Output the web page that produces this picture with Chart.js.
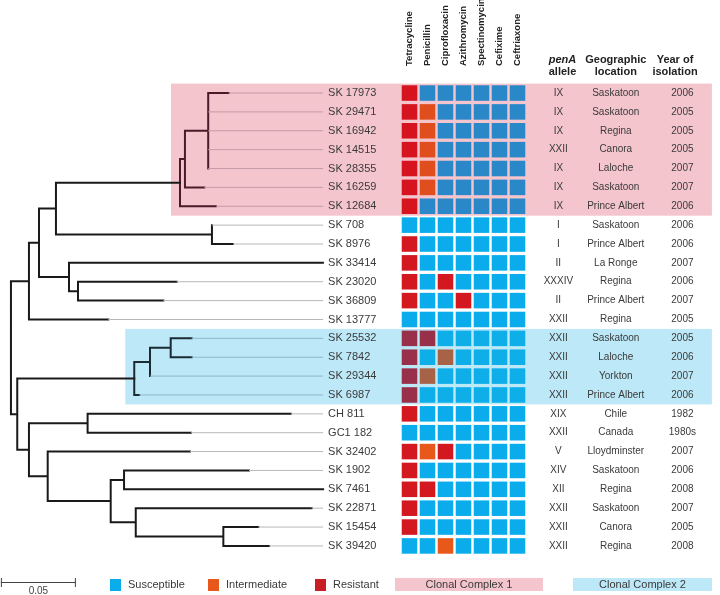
<!DOCTYPE html>
<html>
<head>
<meta charset="utf-8">
<script src="https://cdn.jsdelivr.net/npm/chart.js@4.4.1/dist/chart.umd.min.js"></script>
<style>
  html, body { margin: 0; padding: 0; background: #fff; }
</style>
</head>
<body>
<canvas id="tree" width="720" height="595"></canvas>
<script>
// Isolates, top to bottom
const isolates = ['SK 17973', 'SK 29471', 'SK 16942', 'SK 14515', 'SK 28355', 'SK 16259', 'SK 12684',
  'SK 708', 'SK 8976', 'SK 33414', 'SK 23020', 'SK 36809', 'SK 13777',
  'SK 25532', 'SK 7842', 'SK 29344', 'SK 6987',
  'CH 811', 'GC1 182', 'SK 32402', 'SK 1902', 'SK 7461', 'SK 22871', 'SK 15454', 'SK 39420'];

const drugs = ['Tetracycline', 'Penicillin', 'Ciprofloxacin', 'Azithromycin', 'Spectinomycin', 'Cefixime', 'Ceftriaxone'];

// S = susceptible, I = intermediate, R = resistant (one letter per drug)
const profiles = ['RSSSSSS', 'RISSSSS', 'RISSSSS', 'RISSSSS', 'RISSSSS', 'RISSSSS', 'RSSSSSS',
  'SSSSSSS', 'RSSSSSS', 'RSSSSSS', 'RSRSSSS', 'RSSRSSS', 'SSSSSSS',
  'RRSSSSS', 'RSISSSS', 'RISSSSS', 'RSSSSSS',
  'RSSSSSS', 'SSSSSSS', 'RIRSSSS', 'RSSSSSS', 'RRSSSSS', 'RSSSSSS', 'RSSSSSS', 'SSISSSS'];

const penA = ['IX', 'IX', 'IX', 'XXII', 'IX', 'IX', 'IX', 'I', 'I', 'II', 'XXXIV', 'II', 'XXII',
  'XXII', 'XXII', 'XXII', 'XXII', 'XIX', 'XXII', 'V', 'XIV', 'XII', 'XXII', 'XXII', 'XXII'];

const locations = ['Saskatoon', 'Saskatoon', 'Regina', 'Canora', 'Laloche', 'Saskatoon', 'Prince Albert',
  'Saskatoon', 'Prince Albert', 'La Ronge', 'Regina', 'Prince Albert', 'Regina',
  'Saskatoon', 'Laloche', 'Yorkton', 'Prince Albert', 'Chile', 'Canada', 'Lloydminster',
  'Saskatoon', 'Regina', 'Saskatoon', 'Canora', 'Regina'];

const years = ['2006', '2005', '2005', '2005', '2007', '2007', '2006', '2006', '2006', '2007', '2006', '2007', '2005',
  '2005', '2006', '2007', '2006', '1982', '1980s', '2007', '2006', '2008', '2007', '2005', '2008'];

// 0 = none, 1 = Clonal Complex 1, 2 = Clonal Complex 2
const clonalComplex = [1, 1, 1, 1, 1, 1, 1, 0, 0, 0, 0, 0, 0, 2, 2, 2, 2, 0, 0, 0, 0, 0, 0, 0, 0];

// tree: n(branch length, ...children), t(isolate, branch length)
const n = (len, ...kids) => ({ len, kids });
const t = (name, len) => ({ len, name });

const tree = n(0,
  n(0.0120,
    n(0.0067,
      n(0.0113,
        n(0.0827,
          n(0.0033,
            n(0.0155, t('SK 17973', 0.0136), t('SK 29471', 0), t('SK 16942', 0), t('SK 14515', 0), t('SK 28355', 0)),
            t('SK 16259', 0.0129)),
          t('SK 12684', 0.0240)),
        n(0.1040, t('SK 708', 0), t('SK 8976', 0.0140))),
      n(0.0200, t('SK 33414', 0.1693),
        n(0.0060, t('SK 23020', 0.0658), t('SK 36809', 0.0569)))),
    t('SK 13777', 0.0529)),
  n(0.0042,
    n(0.0780,
      n(0.0105, n(0.0138, t('SK 25532', 0.0140), t('SK 7842', 0.0140)), t('SK 29344', 0)),
      t('SK 6987', 0.0033)),
    n(0.0078,
      n(0.0391, t('CH 811', 0.1355), t('GC1 182', 0.0689)),
      n(0.0125, t('SK 32402', 0.0949),
        n(0.0420,
          n(0.0089, t('SK 1902', 0.0833), t('SK 7461', 0.1327)),
          n(0.0167, t('SK 22871', 0.1173),
            n(0.0584, t('SK 15454', 0.0233), t('SK 39420', 0.0305))))))));

const scaleBarLength = 0.05;

// styles
const FONT = '"Liberation Sans", Arial, sans-serif';
const cellColors = [
  { S: '#0aacec', I: '#e8581a', R: '#d3181f' },
  { S: '#2a88c9', I: '#e04e1e', R: '#d5141f' },
  { S: '#0eaee9', I: '#a86347', R: '#98304a' }
];
const boxColors = ['', '#f4c5cd', '#bde8f7'];
const branchColors = ['#1a1a1a', '#4a1a28', '#1c2a35'];
const guideColors = ['#b8b8b8', '#c49ba5', '#8fb6c6'];

// layout of the tree
let maxDepth = 0;
const cladeDepth = [0, 0, 0];

const layout = (node, depth) => {
  node.depth = depth + node.len;
  if (node.name) {
    node.row = isolates.indexOf(node.name);
    node.y = node.row;
    node.cc = clonalComplex[node.row];
    maxDepth = Math.max(maxDepth, node.depth);
    return;
  }
  node.kids.forEach(kid => layout(kid, node.depth));
  node.y = (node.kids[0].y + node.kids[node.kids.length - 1].y) / 2;
  const cc = node.kids[0].cc;
  node.cc = node.kids.every(kid => kid.cc === cc) ? cc : 0;
  node.kids.forEach(kid => {
    if (kid.cc && kid.cc !== node.cc && !kid.name) cladeDepth[kid.cc] = kid.depth;
  });
}
layout(tree, 0);

const branches = [[], [], []];
const guides = [[], [], []];

const addSegment = (list, x1, y1, x2, y2) => {
  list.push({ x: x1, y: y1 }, { x: x2, y: y2 }, { x: x2, y: null });
}

const collect = (node) => {
  if (node.name) {
    guides[node.cc].push({ x: node.depth, y: node.y }, { x: maxDepth, y: node.y }, { x: maxDepth, y: null });
    return;
  }
  const first = node.kids[0];
  const last = node.kids[node.kids.length - 1];
  addSegment(branches[node.cc], node.depth, first.y, node.depth, last.y);
  node.kids.forEach(kid => {
    if (kid.depth > node.depth) addSegment(branches[node.cc], node.depth, kid.y, kid.depth, kid.y);
    collect(kid);
  });
}
collect(tree);

// heatmap cells
const cells = [];
const cellFill = [];
profiles.forEach((profile, row) => {
  profile.split('').forEach((state, col) => {
    cells.push({ x: col, y: row });
    cellFill.push(cellColors[clonalComplex[row]][state]);
  });
});

const datasets = [];
[0, 1, 2].forEach(g => {
  datasets.push({
    type: 'line', data: guides[g], xAxisID: 'x', yAxisID: 'y',
    borderColor: guideColors[g], borderWidth: 1, pointRadius: 0, spanGaps: false
  });
});
[0, 1, 2].forEach(g => {
  datasets.push({
    type: 'line', data: branches[g], xAxisID: 'x', yAxisID: 'y',
    borderColor: branchColors[g], borderWidth: 2, borderCapStyle: 'square',
    pointRadius: 0, spanGaps: false
  });
});
datasets.push({
  type: 'scatter', data: cells, xAxisID: 'xc', yAxisID: 'y',
  pointStyle: 'rect', pointRadius: 11, pointBorderWidth: 0,
  pointBackgroundColor: cellFill, pointHoverRadius: 11
});

// text columns, boxes, headers, legend
const textCols = [
  { values: penA, x: 8.27, title: ['penA', 'allele'], tx: 8.5 },
  { values: locations, x: 11.46, title: ['Geographic', 'location'], tx: 11.46 },
  { values: years, x: 15.16, title: ['Year of', 'isolation'], tx: 14.75 }
];

const decor = {
  id: 'decor',
  beforeDatasetsDraw(chart) {
    const { ctx, scales: { x, xc, y } } = chart;
    ctx.save();
    [1, 2].forEach(cc => {
      const rows = clonalComplex.map((c, i) => c === cc ? i : -1).filter(i => i >= 0);
      const left = x.getPixelForValue(cladeDepth[cc]) - 9;
      const right = xc.getPixelForValue(16.8);
      const top = y.getPixelForValue(rows[0] - 0.5);
      const bottom = y.getPixelForValue(rows[rows.length - 1] + 0.5);
      ctx.fillStyle = boxColors[cc];
      ctx.fillRect(left, top, right - left, bottom - top);
    });
    ctx.restore();
  },
  afterDatasetsDraw(chart) {
    const { ctx, scales: { x, xc, y } } = chart;
    ctx.save();
    ctx.textBaseline = 'middle';

    // isolate names
    ctx.font = '11px ' + FONT;
    ctx.fillStyle = '#3a3a3a';
    ctx.textAlign = 'left';
    const labelX = x.getPixelForValue(maxDepth) + 5;
    isolates.forEach((name, row) => ctx.fillText(name, labelX, y.getPixelForValue(row)));

    // right-hand columns
    ctx.font = '10px ' + FONT;
    ctx.textAlign = 'center';
    textCols.forEach(col => {
      col.values.forEach((v, row) => ctx.fillText(v, xc.getPixelForValue(col.x), y.getPixelForValue(row)));
    });

    // headers
    ctx.fillStyle = '#222';
    textCols.forEach((col, i) => {
      const cx = xc.getPixelForValue(col.tx);
      ctx.font = (i === 0 ? 'italic bold 11px ' : 'bold 11px ') + FONT;
      ctx.fillText(col.title[0], cx, 60);
      ctx.font = 'bold 11px ' + FONT;
      ctx.fillText(col.title[1], cx, 72);
    });
    ctx.font = 'bold 9.5px ' + FONT;
    ctx.textAlign = 'left';
    drugs.forEach((drug, col) => {
      ctx.save();
      ctx.translate(xc.getPixelForValue(col), 66);
      ctx.rotate(-Math.PI / 2);
      ctx.fillText(drug, 0, 0);
      ctx.restore();
    });

    // scale bar
    const x0 = x.getPixelForValue(-0.0067);
    const x1 = x.getPixelForValue(-0.0067 + scaleBarLength);
    ctx.strokeStyle = '#444';
    ctx.lineWidth = 1;
    ctx.beginPath();
    ctx.moveTo(x0, 582.5); ctx.lineTo(x1, 582.5);
    ctx.moveTo(x0 + 0.5, 578); ctx.lineTo(x0 + 0.5, 587);
    ctx.moveTo(x1 - 0.5, 578); ctx.lineTo(x1 - 0.5, 587);
    ctx.stroke();
    ctx.font = '10px ' + FONT;
    ctx.fillStyle = '#444';
    ctx.textAlign = 'center';
    ctx.fillText(String(scaleBarLength), (x0 + x1) / 2, 591);

    // legend
    ctx.font = '11px ' + FONT;
    ctx.textAlign = 'left';
    const legend = [['Susceptible', cellColors[0].S, 110], ['Intermediate', cellColors[0].I, 208], ['Resistant', '#c81e26', 315]];
    legend.forEach(([label, color, lx]) => {
      ctx.fillStyle = color;
      ctx.fillRect(lx, 579, 11, 12);
      ctx.fillStyle = '#3a3a3a';
      ctx.fillText(label, lx + 18, 585);
    });
    [['Clonal Complex 1', boxColors[1], 395, 543], ['Clonal Complex 2', boxColors[2], 573, 712]].forEach(([label, color, l, r]) => {
      ctx.fillStyle = color;
      ctx.fillRect(l, 578, r - l, 13);
      ctx.fillStyle = '#3a3a3a';
      ctx.textAlign = 'center';
      ctx.fillText(label, (l + r) / 2, 585);
    });
    ctx.restore();
  }
};

new Chart(document.querySelector('#tree'), {
  type: 'line',
  data: { datasets },
  options: {
    responsive: false,
    animation: false,
    events: [],
    layout: { padding: 0, autoPadding: false },
    plugins: { legend: { display: false }, tooltip: { enabled: false } },
    scales: {
      x: { type: 'linear', display: false, min: -0.0073, max: 0.4727 },
      xc: { type: 'linear', display: false, min: -22.75, max: 17.25 },
      y: { type: 'linear', display: false, reverse: true, min: -4.93, max: 26.6 }
    }
  },
  plugins: [decor]
});
</script>
</body>
</html>
